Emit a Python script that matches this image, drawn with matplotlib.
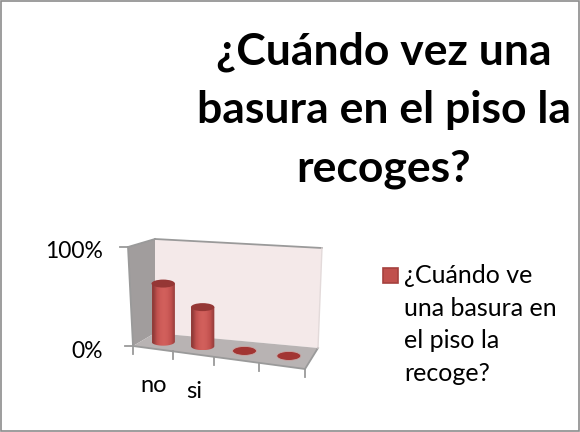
import numpy as np
import matplotlib
matplotlib.use('Agg')
import matplotlib.pyplot as plt
from matplotlib.patches import Ellipse, Polygon, Rectangle

plt.rcParams['font.family'] = ['Lato', 'DejaVu Sans']

# datos
titulo = '¿Cuándo vez una\nbasura en el piso la\nrecoges?'
categorias = ['no', 'si', '', '']
valores = [60, 40, 0, 0]
ticks_y = [0, 100]
etiquetas_y = ['0%', '100%']
leyenda = '¿Cuándo ve\nuna basura en\nel piso la\nrecoge?'

ROJO = '#C0504D'
ROJO_OSCURO = '#953735'
BORDE = '#9A9A9A'

# piso de la caja 3D en pixeles
fi, fd, bd, bi = [np.array(p, float) for p in [(133, 346), (305, 369), (318, 348), (155, 333)]]


def proy(u, d, v=0):
    # categoria, profundidad, porcentaje -> pixel
    s = u / 4
    s = s - 0.027 * np.sin(np.pi * s)  # algo de perspectiva
    p = (1 - d) * ((1 - s) * fi + s * fd) + d * ((1 - s) * bi + s * bd)
    altura = 0.99 - 0.05 * d + 0.06 * d * s
    incl = (-5 * (1 - d) * (1 - s) + 4 * d * s) / 100
    return p[0] + v * incl, p[1] - v * altura


fig = plt.figure(figsize=(5.8, 4.32), dpi=100)
ax = fig.add_axes([0, 0, 1, 1])
ax.axis('off')

ax.add_patch(Rectangle((0.5, 0.5), 578, 430, fc='white', ec='#8C8C8C', lw=1.2))

# paredes y piso
ax.add_patch(Polygon([proy(0, 1), proy(4, 1), proy(4, 1, 100), proy(0, 1, 100)], fc='#F4E9E9', ec='none'))
ax.add_patch(Polygon([proy(0, 0), proy(0, 1), proy(0, 1, 100), proy(0, 0, 100)], fc='#A19D9D', ec='none'))
ax.add_patch(Polygon([proy(0, 0), proy(4, 0), proy(4, 1), proy(0, 1)], fc='#B8B3B3', ec='none'))
for a, b in [((0, 0, 100), (0, 1, 100)), ((0, 1, 100), (4, 1, 100)), ((0, 0, 0), (0, 0, 100)),
             ((0, 0, 0), (4, 0, 0)), ((4, 0, 0), (4, 1, 0))]:
    pa, pb = proy(*a), proy(*b)
    ax.plot([pa[0], pb[0]], [pa[1], pb[1]], color=BORDE, lw=1.3)
pa, pb = proy(4, 1, 0), proy(4, 1, 100)
ax.plot([pa[0], pb[0]], [pa[1], pb[1]], color='#E3DADA', lw=1)

# marcas de los ejes
for u in range(len(categorias) + 1):
    x, y = proy(u, 0)
    ax.plot([x, x], [y, y + 8], color=BORDE, lw=1.3)
for t, lab in zip(ticks_y, etiquetas_y):
    x, y = proy(0, 0, t)
    ax.plot([x - 8, x], [y, y], color=BORDE, lw=1.3)
    ax.text(103, y + 5, lab, ha='right', va='center', fontsize=16.5, color='black')

# cilindros
rx, ry = 11.7, 4
grad = np.array([[0.62, 0.80, 0.95, 1.0, 0.95, 0.82, 0.66]])
mapa = matplotlib.colors.LinearSegmentedColormap.from_list('r', ['#8E3A38', ROJO, '#D2605C'])
for i, (cat, val) in enumerate(zip(categorias, valores)):
    x, y = proy(i + 0.5, 0.5)
    if val > 0:
        _, ytop = proy(i + 0.5, 0.5, val)
        t = np.linspace(0, np.pi, 40)
        cuerpo = np.r_[np.c_[x + rx * np.cos(t), y + ry * np.sin(t)], [[x - rx, ytop], [x + rx, ytop]]]
        clip = Polygon(cuerpo, transform=ax.transData, fc='none', ec='none')
        ax.add_patch(clip)
        im = ax.imshow(grad, extent=[x - rx, x + rx, y + ry, ytop], cmap=mapa, vmin=0.6, vmax=1,
                       aspect='auto', interpolation='bilinear', zorder=2)
        im.set_clip_path(clip)
        ax.add_patch(Ellipse((x, ytop), 2 * rx, 2 * ry, fc=ROJO_OSCURO, ec='none', zorder=3))
    else:
        ax.add_patch(Ellipse((x, y), 24, 9, fc='#A23533', ec='#C9A9A8', lw=0.6, zorder=3))
    if cat:
        xf, yf = proy(i + 0.5, 0)
        ax.text(xf + 1, yf + 37, cat, ha='center', va='center', fontsize=17, color='black')

# leyenda
ax.add_patch(Rectangle((382.5, 267.5), 15, 15, fc=ROJO, ec='#A5413E', lw=1.2))
ax.text(404, 324.5, leyenda, ha='left', va='center', fontsize=18, color='black', linespacing=1.5)

# titulo
ax.text(384, 110, titulo, ha='center', va='center', fontsize=32, fontweight='bold', color='black', linespacing=1.55)

ax.set_xlim(0, 580)
ax.set_ylim(432, 0)
ax.set_aspect('auto')
fig.savefig('out.png', dpi=100)
